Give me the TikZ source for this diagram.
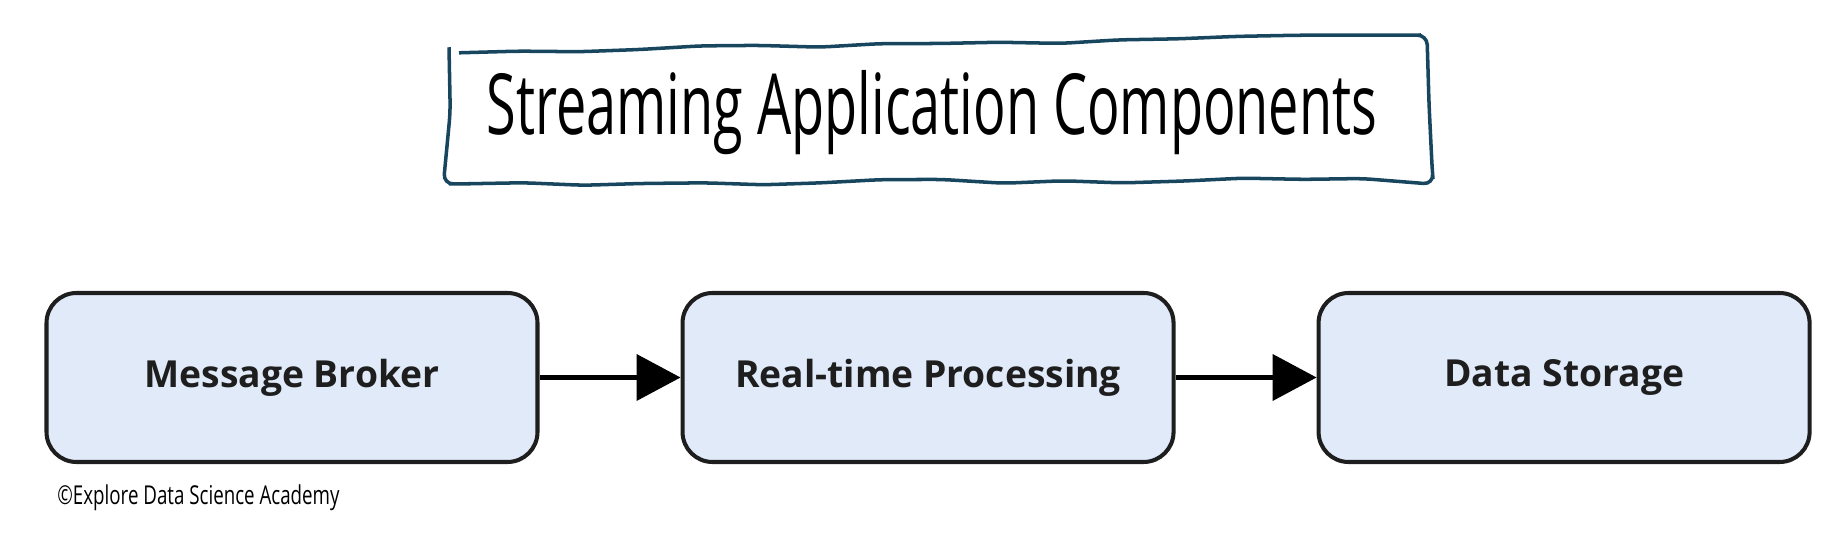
\documentclass[tikz,border=0pt]{standalone}
\usepackage{fontspec}
\setmainfont{Open Sans}
\newfontfamily\handfont[FakeStretch=0.64]{Open Sans}
\newfontfamily\notefont[FakeStretch=0.72]{Open Sans}
\usetikzlibrary{arrows.meta,calc,positioning,decorations.pathmorphing}
\definecolor{boxfill}{HTML}{E0EAF8}
\definecolor{boxline}{HTML}{1E1E1E}
\definecolor{frameline}{HTML}{17465E}

\begin{document}
\begin{tikzpicture}[>={Triangle[length=0.44cm,width=0.46cm]},
  comp/.style={draw=boxline,line width=1.15pt,fill=boxfill,rounded corners=0.3cm,
    minimum width=4.91cm,minimum height=1.69cm,text=boxline,
    font=\bfseries\fontsize{10.6}{13}\selectfont},
  flow/.style={->,line width=1.15pt,black},
  frame/.style={draw=frameline,line width=1pt,decorate,
    decoration={random steps,segment length=0.6cm,amplitude=0.025cm},rounded corners=0.1cm}]
\useasboundingbox (0,0) rectangle (18.39,5.43);
\pgfmathsetseed{7}
% title in a hand drawn frame
\node (ttl) at (9.32,4.30) {\handfont\fontsize{24}{28}\selectfont Streaming Application Components};
\draw[frame] ($(ttl)+(-4.83,0.60)$) -- ($(ttl)+(4.89,0.78)$) -- ($(ttl)+(5.01,-0.66)$)
  -- ($(ttl)+(-4.83,-0.71)$) -- cycle;
% components
\node[comp] (broker) at (2.92,1.655) {Message Broker};
\node[comp,right=1.41cm of broker] (proc) {Real-time Processing};
\node[comp,right=1.41cm of proc] (store) {Data Storage};
\draw[flow] (broker) -- (proc);
\draw[flow] (proc) -- (store);
\node[anchor=base west,font=\notefont\fontsize{7.4}{9}\selectfont] (copy) at (0.45,0.38)
  {©Explore Data Science Academy};
\end{tikzpicture}
\end{document}
